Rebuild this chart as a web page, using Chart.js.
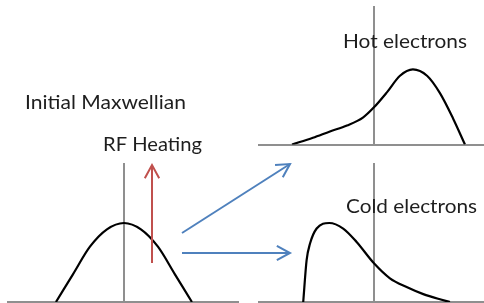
<!DOCTYPE html>
<html>
<head>
<meta charset="utf-8">
<script src="https://cdn.jsdelivr.net/npm/chart.js@4"></script>
<style>
  html, body { margin: 0; padding: 0; background: #fff; overflow: hidden; }
  #wrap { position: relative; width: 484px; height: 303px; overflow: hidden; }
  .box { position: absolute; }
</style>
</head>
<body>
<div id="wrap">
  <div class="box" style="left:6px;top:162px;width:234px;height:142px"><canvas id="maxwell"></canvas></div>
  <div class="box" style="left:257px;top:4.5px;width:229px;height:141.5px"><canvas id="hot"></canvas></div>
  <div class="box" style="left:257px;top:162px;width:229px;height:142px"><canvas id="cold"></canvas></div>
  <div class="box" style="left:0;top:0;width:484px;height:303px;pointer-events:none"><canvas id="overlay"></canvas></div>
</div>
<script>
// distribution curves, v in thermal units, f normalised to the Maxwellian peak
const maxwellV = [-4, -3, -2, -1, 0, 1, 2, 3, 4];
const maxwellF = [0, 0.35, 0.70, 0.92, 1.0, 0.92, 0.70, 0.35, 0];

const hotV = [-4.82, -3.59, -2.59, -1.59, -0.65, 0, 0.76, 1.53, 2.29, 3.12, 3.88, 4.65, 5.35];
const hotF = [0, 0.085, 0.165, 0.24, 0.34, 0.47, 0.66, 0.87, 0.95, 0.87, 0.65, 0.33, 0];

const coldV = [-4.16, -3.96, -3.76, -3.37, -2.63, -1.81, -1.02, 0, 0.94, 1.92, 2.90, 3.88, 4.47];
const coldF = [0, 0.53, 0.74, 0.93, 1.0, 0.93, 0.76, 0.49, 0.30, 0.19, 0.10, 0.034, 0];

// arrows on the sketch (overlay units)
const arrowStart = [[152, 263], [182, 233], [182, 253]];
const arrowEnd = [[152, 165], [290, 164], [290, 253]];

const labels = ["Initial Maxwellian", "RF Heating", "Hot electrons", "Cold electrons"];
const labelPos = [[25, 109], [103, 151], [343, 48], [346, 213]];
const labelWidth = [161, 99, 124, 131];

const axisGray = "#8f8f8f";

function panel(id, v, f, xmin, xmax, ymax) {
  return new Chart(document.getElementById(id), {
    type: "scatter",
    data: {
      datasets: [{
        data: v.map((x, i) => ({ x: x, y: f[i] })),
        showLine: true,
        borderColor: "#000",
        borderWidth: 2.2,
        pointRadius: 0,
        cubicInterpolationMode: "monotone"
      }]
    },
    options: {
      responsive: true,
      maintainAspectRatio: false,
      animation: false,
      layout: { padding: 2 },
      plugins: { legend: { display: false }, tooltip: { enabled: false } },
      scales: {
        x: { type: "linear", min: xmin, max: xmax, position: { y: 0 },
             grid: { display: false }, ticks: { display: false },
             border: { color: axisGray, width: 2 } },
        y: { type: "linear", min: 0, max: ymax, position: { x: 0 },
             grid: { display: false }, ticks: { display: false },
             border: { color: axisGray, width: 2 } }
      }
    }
  });
}

panel("maxwell", maxwellV, maxwellF, -6.82, 6.71, 1.747);
panel("hot", hotV, hotF, -6.76, 6.47, 1.74);
panel("cold", coldV, coldF, -6.76, 6.47, 1.747);

// open arrow head: two wings back from the tip
function head(s, e) {
  const ang = Math.atan2(s[1] - e[1], s[0] - e[0]);
  const len = 15, spread = 0.5;
  return [
    { x: e[0] + len * Math.cos(ang + spread), y: e[1] + len * Math.sin(ang + spread) },
    { x: e[0], y: e[1] },
    { x: e[0] + len * Math.cos(ang - spread), y: e[1] + len * Math.sin(ang - spread) }
  ];
}

const arrowColors = ["#C0504D", "#4F81BD", "#4F81BD"];
const overlaySets = [];
arrowStart.forEach((s, i) => {
  const e = arrowEnd[i];
  overlaySets.push({ data: [{ x: s[0], y: s[1] }, { x: e[0], y: e[1] }] , borderColor: arrowColors[i] });
  overlaySets.push({ data: head(s, e), borderColor: arrowColors[i] });
});
overlaySets.forEach(d => { d.showLine = true; d.pointRadius = 0; d.borderWidth = 2; d.tension = 0; d.clip = false; });

const textPlugin = {
  id: "sketchText",
  afterDraw(chart) {
    const ctx = chart.ctx;
    const sx = chart.scales.x, sy = chart.scales.y;
    ctx.save();
    ctx.fillStyle = "#1e1e1e";
    ctx.font = "19px Lato";
    ctx.textBaseline = "alphabetic";
    labels.forEach((t, i) => {
      const px = sx.getPixelForValue(labelPos[i][0]);
      const py = sy.getPixelForValue(labelPos[i][1]);
      const k = labelWidth[i] / ctx.measureText(t).width;
      ctx.save();
      ctx.translate(px, py);
      ctx.scale(k, 1);
      ctx.fillText(t, 0, 0);
      ctx.restore();
    });
    ctx.restore();
  }
};

new Chart(document.getElementById("overlay"), {
  type: "scatter",
  data: { datasets: overlaySets },
  options: {
    responsive: true,
    maintainAspectRatio: false,
    animation: false,
    layout: { padding: 0 },
    plugins: { legend: { display: false }, tooltip: { enabled: false } },
    scales: {
      x: { type: "linear", min: 0, max: 484, display: false },
      y: { type: "linear", min: 0, max: 303, reverse: true, display: false }
    }
  },
  plugins: [textPlugin]
});
</script>
</body>
</html>
